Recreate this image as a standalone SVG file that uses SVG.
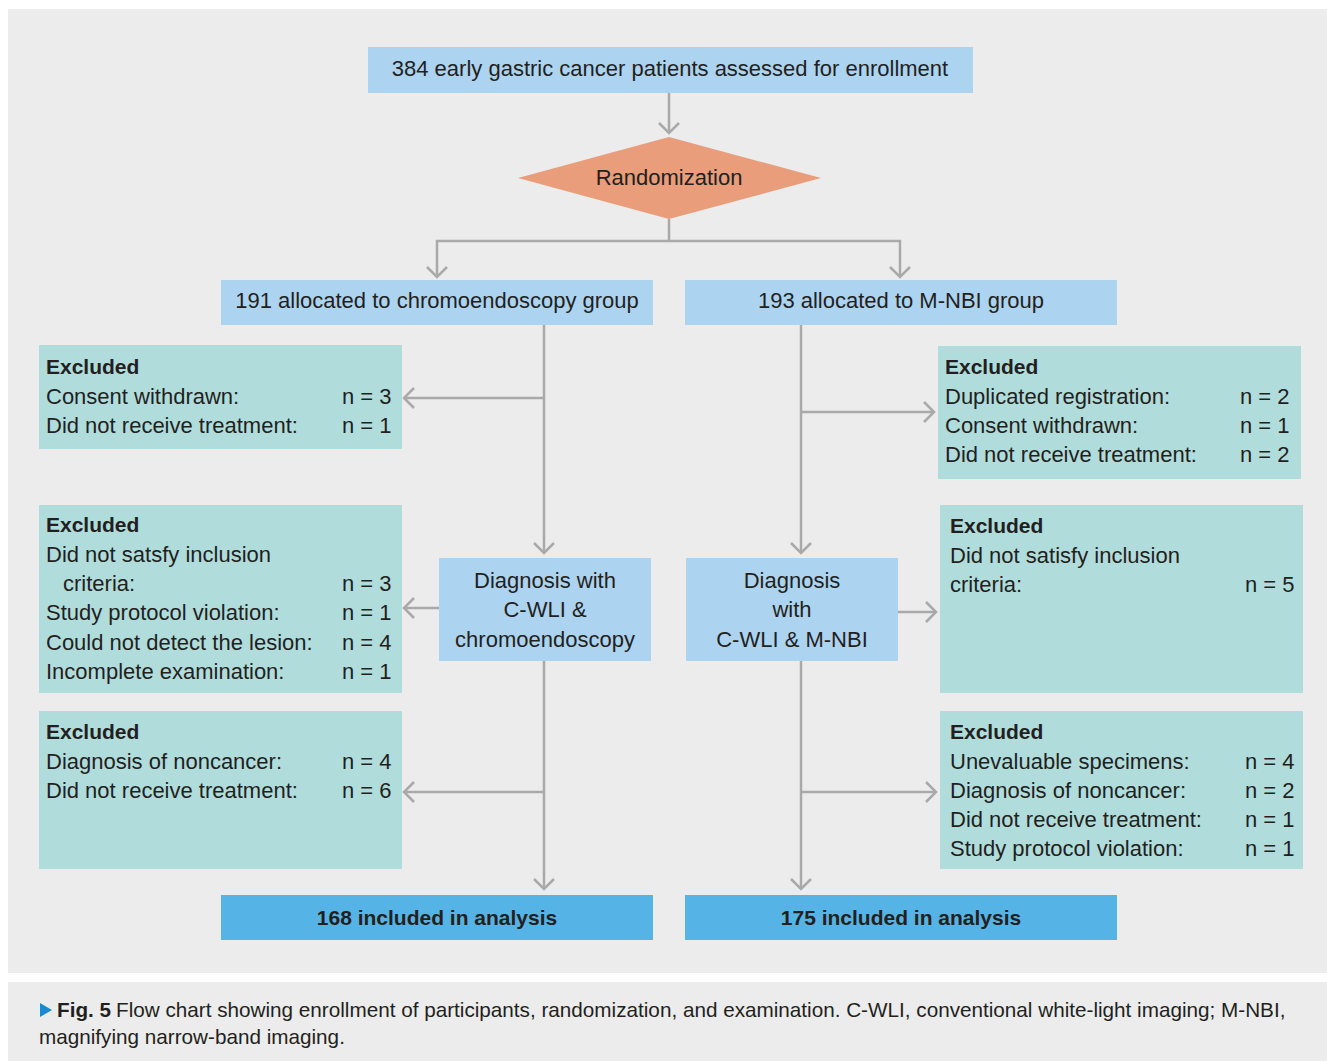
<svg xmlns="http://www.w3.org/2000/svg" width="1327" height="1061" viewBox="0 0 1327 1061">
<style>
.t{font-family:"Liberation Sans",Arial,sans-serif;font-size:22px;fill:#231f20}
.b{font-weight:bold;font-size:21px}
.c{text-anchor:middle}
.lb{fill:#acd4f0}
.ex{fill:#b0dddc}
.fin{fill:#55b4e5}
.con{fill:none;stroke:#a9a9a9;stroke-width:2.5}
.cap{font-family:"Liberation Sans",Arial,sans-serif;font-size:20.7px;fill:#231f20}
</style>
<defs>
<marker id="ah" markerUnits="userSpaceOnUse" viewBox="-12 -12 14 24" markerWidth="14" markerHeight="24" refX="0" refY="0" orient="auto">
<path d="M-10,-10 L0,0 L-10,10" fill="none" stroke="#a9a9a9" stroke-width="2.5"/>
</marker>
</defs>
<rect x="0" y="0" width="1327" height="1061" fill="#ffffff"/>
<rect x="8" y="9" width="1319" height="964" fill="#ebeceb"/>
<rect x="8" y="982" width="1319" height="79" fill="#ebeceb"/>

<g id="connectors">
<path class="con" d="M669,93 V133" marker-end="url(#ah)"/>
<path class="con" d="M669,219 V241 H437 V277" marker-end="url(#ah)"/>
<path class="con" d="M669,241 H900 V277" marker-end="url(#ah)"/>
<path class="con" d="M544,325 V553" marker-end="url(#ah)"/>
<path class="con" d="M801,325 V553" marker-end="url(#ah)"/>
<path class="con" d="M544,398 H404" marker-end="url(#ah)"/>
<path class="con" d="M801,412 H934" marker-end="url(#ah)"/>
<path class="con" d="M439,608 H404" marker-end="url(#ah)"/>
<path class="con" d="M898,612 H936" marker-end="url(#ah)"/>
<path class="con" d="M544,661 V889" marker-end="url(#ah)"/>
<path class="con" d="M801,661 V889" marker-end="url(#ah)"/>
<path class="con" d="M544,792 H404" marker-end="url(#ah)"/>
<path class="con" d="M801,792 H936" marker-end="url(#ah)"/>
</g>

<g id="assessed">
<rect class="lb" x="368" y="47" width="605" height="46"/>
<text class="t c" x="670" y="76">384 early gastric cancer patients assessed for enrollment</text>
</g>
<g id="randomization">
<polygon points="669,137 821,178 669,219 518,178" fill="#e99d7a"/>
<text class="t c" x="669" y="185">Randomization</text>
</g>
<g id="alloc-chromo">
<rect class="lb" x="221" y="280" width="432" height="45"/>
<text class="t c" x="437" y="308">191 allocated to chromoendoscopy group</text>
</g>
<g id="alloc-mnbi">
<rect class="lb" x="685" y="280" width="432" height="45"/>
<text class="t c" x="901" y="308">193 allocated to M-NBI group</text>
</g>
<g id="excl-l1">
<rect class="ex" x="39" y="345" width="363" height="104"/>
<text class="t b" x="46" y="374">Excluded</text>
<text class="t" x="46" y="404">Consent withdrawn:</text><text class="t" x="342" y="404">n = 3</text>
<text class="t" x="46" y="433">Did not receive treatment:</text><text class="t" x="342" y="433">n = 1</text>
</g>
<g id="excl-r1">
<rect class="ex" x="938" y="346" width="363" height="133"/>
<text class="t b" x="945" y="374">Excluded</text>
<text class="t" x="945" y="404">Duplicated registration:</text><text class="t" x="1240" y="404">n = 2</text>
<text class="t" x="945" y="433">Consent withdrawn:</text><text class="t" x="1240" y="433">n = 1</text>
<text class="t" x="945" y="462">Did not receive treatment:</text><text class="t" x="1240" y="462">n = 2</text>
</g>
<g id="excl-l2">
<rect class="ex" x="39" y="505" width="363" height="188"/>
<text class="t b" x="46" y="532">Excluded</text>
<text class="t" x="46" y="562">Did not satsfy inclusion</text>
<text class="t" x="63" y="591">criteria:</text><text class="t" x="342" y="591">n = 3</text>
<text class="t" x="46" y="620">Study protocol violation:</text><text class="t" x="342" y="620">n = 1</text>
<text class="t" x="46" y="650">Could not detect the lesion:</text><text class="t" x="342" y="650">n = 4</text>
<text class="t" x="46" y="679">Incomplete examination:</text><text class="t" x="342" y="679">n = 1</text>
</g>
<g id="diag-chromo">
<rect class="lb" x="439" y="558" width="212" height="103"/>
<text class="t c" x="545" y="588">Diagnosis with</text>
<text class="t c" x="545" y="617">C-WLI &amp;</text>
<text class="t c" x="545" y="647">chromoendoscopy</text>
</g>
<g id="diag-mnbi">
<rect class="lb" x="686" y="558" width="212" height="103"/>
<text class="t c" x="792" y="588">Diagnosis</text>
<text class="t c" x="792" y="617">with</text>
<text class="t c" x="792" y="647">C-WLI &amp; M-NBI</text>
</g>
<g id="excl-r2">
<rect class="ex" x="940" y="505" width="363" height="188"/>
<text class="t b" x="950" y="533">Excluded</text>
<text class="t" x="950" y="563">Did not satisfy inclusion</text>
<text class="t" x="950" y="592">criteria:</text><text class="t" x="1245" y="592">n = 5</text>
</g>
<g id="excl-l3">
<rect class="ex" x="39" y="711" width="363" height="158"/>
<text class="t b" x="46" y="739">Excluded</text>
<text class="t" x="46" y="769">Diagnosis of noncancer:</text><text class="t" x="342" y="769">n = 4</text>
<text class="t" x="46" y="798">Did not receive treatment:</text><text class="t" x="342" y="798">n = 6</text>
</g>
<g id="excl-r3">
<rect class="ex" x="940" y="711" width="363" height="158"/>
<text class="t b" x="950" y="739">Excluded</text>
<text class="t" x="950" y="769">Unevaluable specimens:</text><text class="t" x="1245" y="769">n = 4</text>
<text class="t" x="950" y="798">Diagnosis of noncancer:</text><text class="t" x="1245" y="798">n = 2</text>
<text class="t" x="950" y="827">Did not receive treatment:</text><text class="t" x="1245" y="827">n = 1</text>
<text class="t" x="950" y="856">Study protocol violation:</text><text class="t" x="1245" y="856">n = 1</text>
</g>
<g id="final-chromo">
<rect class="fin" x="221" y="895" width="432" height="45"/>
<text class="t b c" x="437" y="925">168 included in analysis</text>
</g>
<g id="final-mnbi">
<rect class="fin" x="685" y="895" width="432" height="45"/>
<text class="t b c" x="901" y="925">175 included in analysis</text>
</g>

<g id="caption">
<polygon points="40,1003 52,1010 40,1017" fill="#1a8ad0"/>
<text class="cap" x="57" y="1017"><tspan font-weight="bold">Fig. 5</tspan><tspan x="116">Flow chart showing enrollment of participants, randomization, and examination. C-WLI, conventional white-light imaging; M-NBI,</tspan></text>
<text class="cap" x="39" y="1044">magnifying narrow-band imaging.</text>
</g>
</svg>
